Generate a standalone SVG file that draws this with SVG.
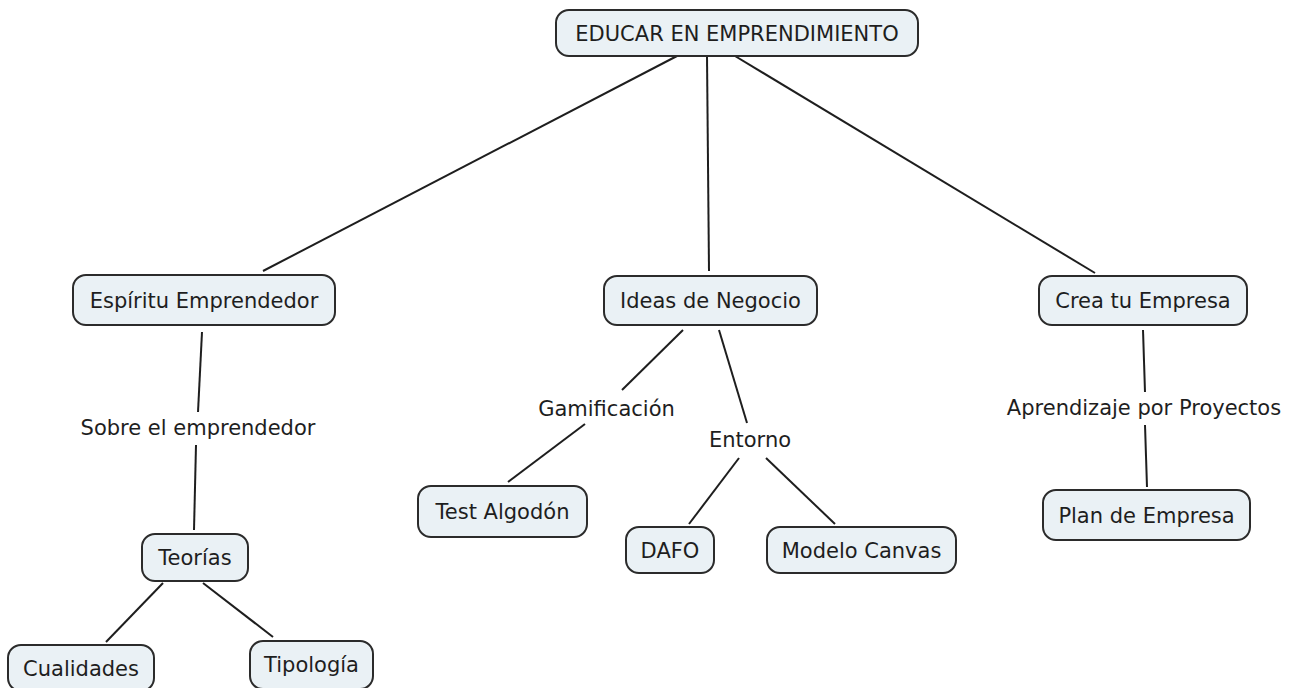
<svg xmlns="http://www.w3.org/2000/svg" width="1305" height="688" viewBox="0 0 1305 688">
<style>
.n rect{fill:#eaf1f5;stroke:#2b2b2b;stroke-width:2}
text{font-family:"DejaVu Sans","Liberation Sans",sans-serif;font-size:21px;fill:#1e1e1e;text-anchor:middle}
.c line{stroke:#1e1e1e;stroke-width:2}
</style>
<rect width="1305" height="688" fill="#ffffff"/>
<g class="c" id="connectors">
<line x1="677" y1="56" x2="263" y2="271"/>
<line x1="707" y1="56" x2="709" y2="271"/>
<line x1="735" y1="56" x2="1095" y2="273"/>
<line x1="202" y1="332" x2="198" y2="412"/>
<line x1="196" y1="445" x2="194" y2="530"/>
<line x1="163" y1="583" x2="106" y2="642"/>
<line x1="203" y1="583" x2="273" y2="637"/>
<line x1="683" y1="330" x2="622" y2="390"/>
<line x1="585" y1="424" x2="508" y2="482"/>
<line x1="719" y1="330" x2="747" y2="423"/>
<line x1="739" y1="458" x2="689" y2="524"/>
<line x1="766" y1="458" x2="835" y2="524"/>
<line x1="1143" y1="330" x2="1145" y2="392"/>
<line x1="1145" y1="425" x2="1147" y2="487"/>
</g>
<g class="n" id="n-educar"><rect x="556" y="10" width="362" height="46" rx="13"/><text x="737" y="40.5">EDUCAR EN EMPRENDIMIENTO</text></g>
<g class="n" id="n-espiritu"><rect x="73" y="275" width="262" height="50" rx="13"/><text x="204" y="307.5">Espíritu Emprendedor</text></g>
<g class="n" id="n-ideas"><rect x="604" y="276" width="213" height="49" rx="13"/><text x="710.5" y="308">Ideas de Negocio</text></g>
<g class="n" id="n-crea"><rect x="1039" y="276" width="208" height="49" rx="13"/><text x="1143" y="308">Crea tu Empresa</text></g>
<g id="l-sobre"><text x="198" y="435">Sobre el emprendedor</text></g>
<g id="l-gamificacion"><text x="606.5" y="415.5">Gamificación</text></g>
<g id="l-entorno"><text x="750" y="447">Entorno</text></g>
<g id="l-aprendizaje"><text x="1144" y="414.5">Aprendizaje por Proyectos</text></g>
<g class="n" id="n-test"><rect x="418" y="486" width="169" height="51" rx="13"/><text x="502.5" y="519">Test Algodón</text></g>
<g class="n" id="n-dafo"><rect x="626" y="527" width="88" height="46" rx="13"/><text x="670" y="557.5">DAFO</text></g>
<g class="n" id="n-canvas"><rect x="767" y="527" width="189" height="46" rx="13"/><text x="861.5" y="557.5">Modelo Canvas</text></g>
<g class="n" id="n-plan"><rect x="1043" y="490" width="207" height="50" rx="13"/><text x="1146.5" y="522.5">Plan de Empresa</text></g>
<g class="n" id="n-teorias"><rect x="142" y="534" width="106" height="47" rx="13"/><text x="195" y="565">Teorías</text></g>
<g class="n" id="n-cualidades"><rect x="8" y="645" width="146" height="46" rx="13"/><text x="81" y="675.5">Cualidades</text></g>
<g class="n" id="n-tipologia"><rect x="250" y="641" width="123" height="48" rx="13"/><text x="311.5" y="672">Tipología</text></g>
</svg>
